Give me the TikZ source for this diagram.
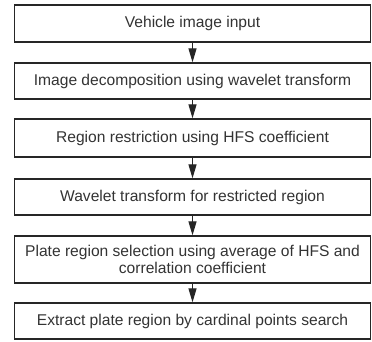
\documentclass[tikz,border=0pt]{standalone}
\usepackage{fontspec}
\setmainfont{Liberation Sans}
\usetikzlibrary{arrows.meta}
\begin{document}
\begin{tikzpicture}[x=1pt,y=-1pt,
  stepbox/.style={draw=black!85, line width=1.3pt, minimum width=356pt,
    inner sep=0pt, align=center, text=black!80,
    font=\fontsize{15.6}{17}\selectfont},
  flow/.style={draw=black!85, line width=1.2pt,
    -{Triangle[length=14pt,width=8pt]}}]
\useasboundingbox (0,0) rectangle (372,342);
\node[stepbox, minimum height=37pt] (s1) at (192.5,23.5) {Vehicle image input};
\node[stepbox, minimum height=36pt] (s2) at (192.5,81) {Image decomposition using wavelet transform};
\node[stepbox, minimum height=38pt] (s3) at (192.5,138) {Region restriction using HFS coefficient};
\node[stepbox, minimum height=36pt] (s4) at (192.5,197) {Wavelet transform for restricted region};
\node[stepbox, minimum height=47pt] (s5) at (192.5,259.5) {Plate region selection using average of HFS and\\correlation coefficient};
\node[stepbox, minimum height=36pt] (s6) at (192.5,321) {Extract plate region by cardinal points search};
\foreach \a/\b in {s1/s2,s2/s3,s3/s4,s4/s5,s5/s6}
  \draw[flow] (\a.south) -- (\b.north);
\end{tikzpicture}
\end{document}
